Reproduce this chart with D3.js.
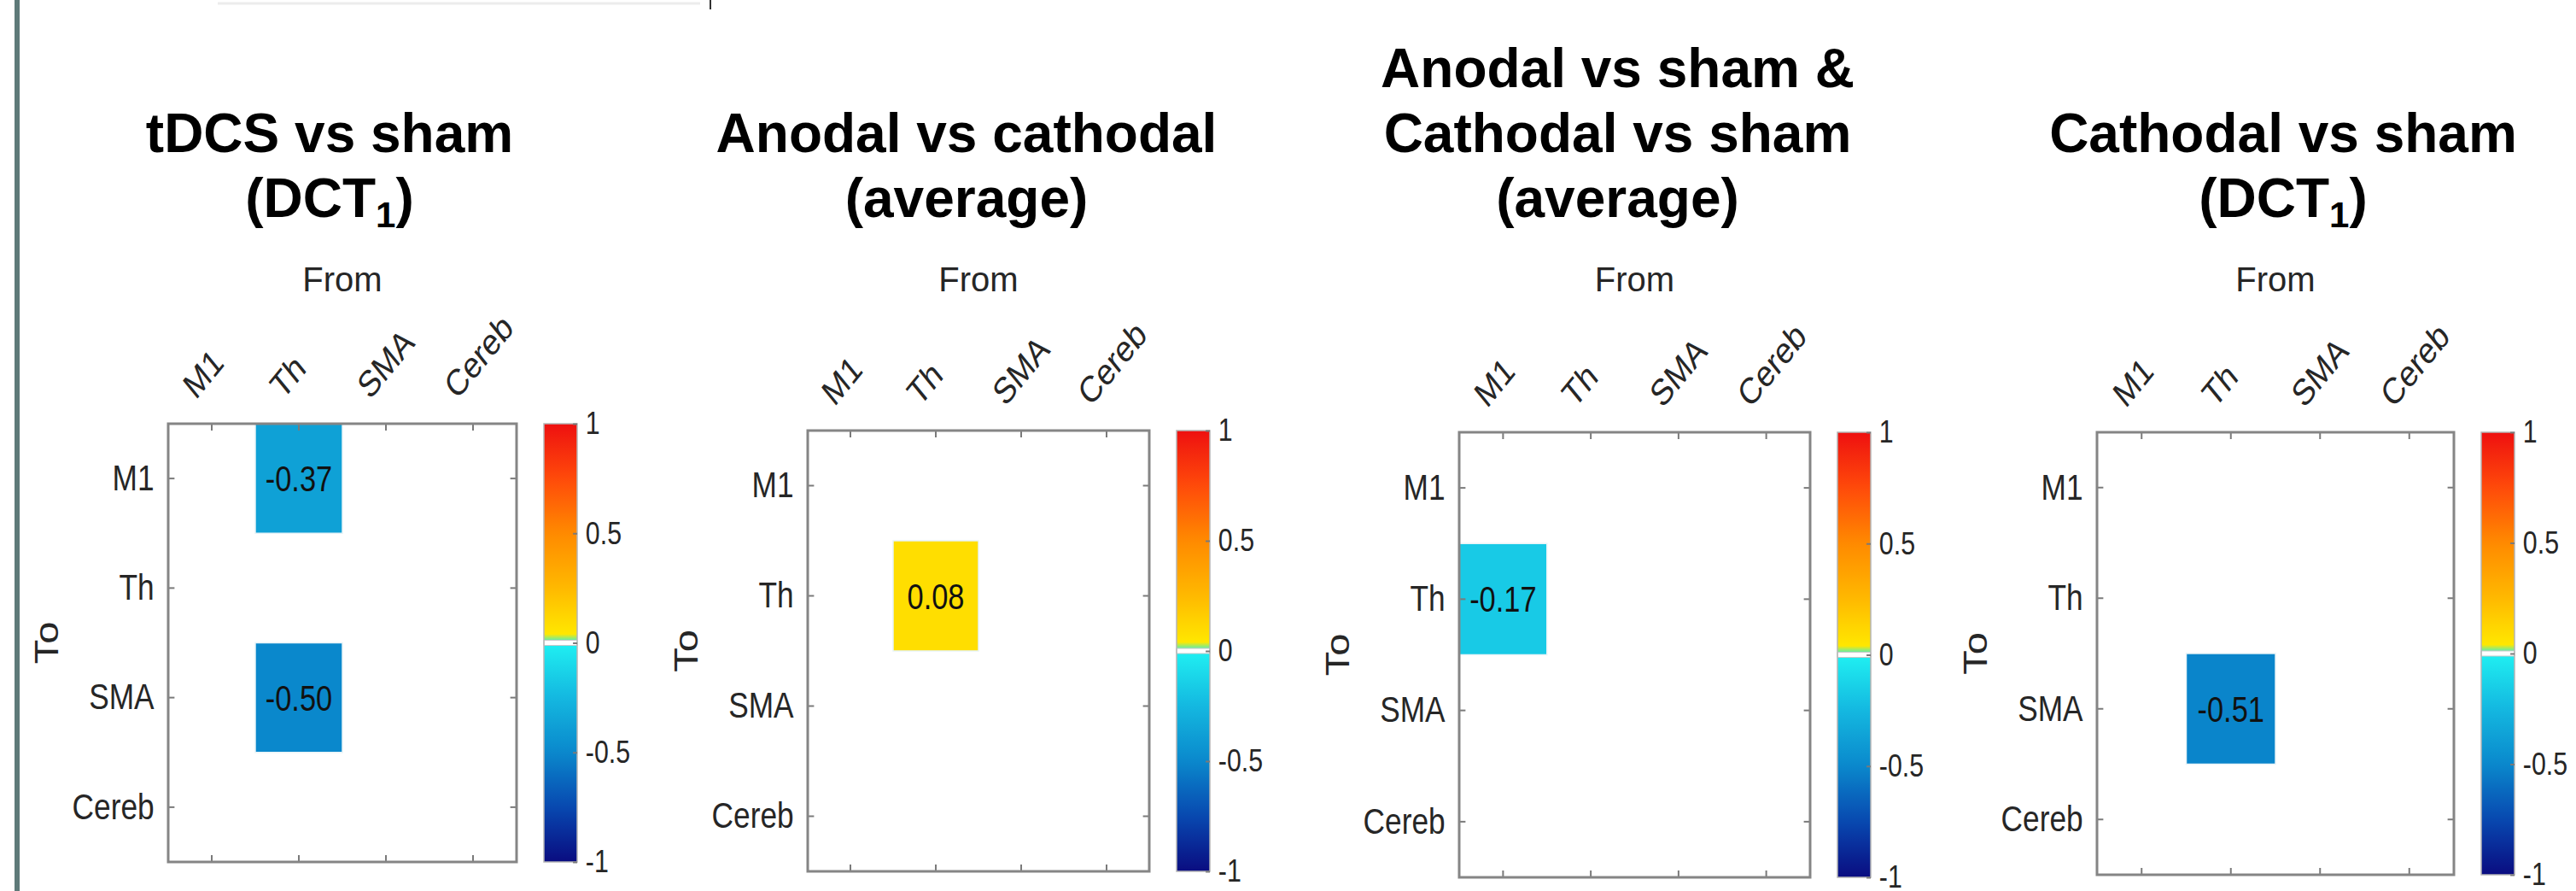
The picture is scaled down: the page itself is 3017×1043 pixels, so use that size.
<!DOCTYPE html>
<html>
<head>
<meta charset="utf-8">
<script src="https://cdn.jsdelivr.net/npm/d3@7"></script>
<style>
  body { margin: 0; background: #fff; }
  text { font-family: "Liberation Sans", Arial, Helvetica, sans-serif; }
</style>
</head>
<body>
<svg id="canvas" width="3017" height="1043"></svg>
<script>
// regions used for both axes (From = columns, To = rows)
let regions = ['M1', 'Th', 'SMA', 'Cereb']

// panel titles, "_1" marks a subscript
let panelTitles = [
    ['tDCS vs sham', '(DCT_1)'],
    ['Anodal vs cathodal', '(average)'],
    ['Anodal vs sham &', 'Cathodal vs sham', '(average)'],
    ['Cathodal vs sham', '(DCT_1)']
]

// non-empty cells of each matrix
let cellPanel = [0, 0, 1, 2, 3]
let cellFrom  = ['Th', 'Th', 'Th', 'M1', 'Th']
let cellTo    = ['M1', 'SMA', 'Th', 'Th', 'SMA']
let cellValue = [-0.37, -0.50, 0.08, -0.17, -0.51]

let colorbarTicks = [1, 0.5, 0, -0.5, -1]

// layout of the four panels
let boxLeft = [197, 946, 1709, 2456]
let boxTop = [496, 504, 506, 506]
let boxWidth = [408, 400, 411, 418]
let boxHeight = [513, 516, 521, 518]
let titleShift = [-15, -14, -20, 9]
let squeeze = 0.82   // the matrix figures are narrowed horizontally

let canvas = d3.select('#canvas')

// split colormap: blue side for negative, yellow-red for positive
let negColor = d3.scaleLinear()
    .domain([-1, -0.75, -0.5, -0.25, 0])
    .range(['#0a0c80', '#0848b0', '#0a88cc', '#14b8e0', '#20f0f2'])
let posColor = d3.scaleLinear()
    .domain([0, 0.25, 0.5, 0.75, 1])
    .range(['#fff000', '#ffb900', '#ff8a00', '#ff4a0a', '#ee1010'])
let colorOf = (v) => v < 0 ? negColor(v) : posColor(v)

// left border bar + faint remains of a cut line of text at the very top
canvas.append('rect').attr('x', 17).attr('y', 0).attr('width', 6).attr('height', 1043).attr('fill', '#5f7a79')
canvas.append('line').attr('x1', 255).attr('x2', 820).attr('y1', 4).attr('y2', 4)
    .attr('stroke', '#ececec').attr('stroke-width', 3)
canvas.append('line').attr('x1', 832).attr('x2', 832).attr('y1', 0).attr('y2', 11)
    .attr('stroke', '#333').attr('stroke-width', 2)

// gradient for the colorbar
let grad = canvas.append('defs').append('linearGradient').attr('id', 'cbgrad')
    .attr('x1', 0).attr('y1', 1).attr('x2', 0).attr('y2', 0)
d3.range(0, 1.0001, 0.02).forEach((t) => {
    let v = -1 + 2 * t
    grad.append('stop').attr('offset', t).attr('stop-color', colorOf(v === 0 ? -0.001 : v))
})

let drawPanel = (i) => {
    let w = boxWidth[i]
    let h = boxHeight[i]
    let g = canvas.append('g').attr('transform', `translate(${boxLeft[i]},${boxTop[i]})`)

    // title, bottom aligned
    let lines = panelTitles[i]
    lines.forEach((line, k) => {
        let baseY = 254 - boxTop[i] - (lines.length - 1 - k) * 76
        let parts = line.split(/_(\d)/)
        let t = g.append('text')
            .attr('x', w / 2 + titleShift[i])
            .attr('y', baseY)
            .attr('text-anchor', 'middle')
            .attr('font-size', 64)
            .attr('font-weight', 'bold')
            .attr('fill', '#000')
        parts.forEach((p, j) => {
            if (j % 2 === 1) {
                t.append('tspan').attr('font-size', 42).attr('dy', 12).text(p)
            } else if (j > 0) {
                t.append('tspan').attr('dy', -12).text(p)
            } else {
                t.append('tspan').text(p)
            }
        })
    })

    g.append('text')
        .attr('x', w / 2).attr('y', 341 - boxTop[i])
        .attr('text-anchor', 'middle').attr('font-size', 40).attr('fill', '#262626')
        .text('From')

    // matrix part drawn in a wider frame and squeezed
    let W = w / squeeze
    let m = g.append('g').attr('transform', `scale(${squeeze},1)`)

    let x = d3.scaleBand().domain(regions).range([0, W])
    let y = d3.scaleBand().domain(regions).range([0, h])
    let cb = d3.scaleLinear().domain([-1, 1]).range([h, 0])

    // cells
    let cells = d3.range(cellValue.length).filter((c) => cellPanel[c] === i)
    m.selectAll('rect.cell')
        .data(cells)
        .enter()
        .append('rect')
        .attr('class', 'cell')
        .attr('x', (c) => x(cellFrom[c]))
        .attr('y', (c) => y(cellTo[c]))
        .attr('width', x.bandwidth())
        .attr('height', y.bandwidth())
        .attr('fill', (c) => colorOf(cellValue[c]))
        .attr('stroke', '#e8f4f8')
        .attr('stroke-width', 1.5)
        .attr('vector-effect', 'non-scaling-stroke')
    m.selectAll('text.val')
        .data(cells)
        .enter()
        .append('text')
        .attr('class', 'val')
        .attr('x', (c) => x(cellFrom[c]) + x.bandwidth() / 2)
        .attr('y', (c) => y(cellTo[c]) + y.bandwidth() / 2)
        .attr('dy', '0.36em')
        .attr('text-anchor', 'middle')
        .attr('font-size', 42)
        .attr('fill', '#111')
        .text((c) => cellValue[c].toFixed(2))

    // axes, ticks pointing inwards
    let axisStyle = (sel) => {
        sel.select('.domain').remove()
        sel.selectAll('.tick line').attr('stroke', '#7a7a7a').attr('stroke-width', 2)
            .attr('vector-effect', 'non-scaling-stroke')
        sel.selectAll('.tick text').attr('font-size', 43).attr('fill', '#262626')
            .attr('font-family', '"Liberation Sans", Arial, sans-serif')
    }
    m.append('g').call(d3.axisLeft(y).tickSize(-9).tickPadding(20)).call(axisStyle)
    m.append('g').attr('transform', `translate(${W},0)`)
        .call(d3.axisRight(y).tickSize(-9).tickFormat('')).call(axisStyle)
    m.append('g').attr('transform', `translate(0,${h})`)
        .call(d3.axisBottom(x).tickSize(-8).tickFormat('')).call(axisStyle)
    let top = m.append('g').call(d3.axisTop(x).tickSize(-8)).call(axisStyle)
    top.selectAll('.tick text')
        .attr('x', 0).attr('y', 0).attr('dy', 0)
        .attr('text-anchor', 'start')
        .attr('transform', 'translate(-23,-27) rotate(-45)')

    // box
    m.append('rect').attr('width', W).attr('height', h)
        .attr('fill', 'none').attr('stroke', '#858585').attr('stroke-width', 3)
        .attr('vector-effect', 'non-scaling-stroke')

    m.append('text')
        .attr('transform', `translate(${-143 / squeeze},${h / 2}) rotate(-90)`)
        .attr('dy', '0.36em')
        .attr('text-anchor', 'middle').attr('font-size', 47).attr('fill', '#262626')
        .text('To')

    // colorbar
    let cbX = W + 32 / squeeze
    let cbW = 39 / squeeze
    let cbg = m.append('g').attr('transform', `translate(${cbX},0)`)
    cbg.append('rect').attr('width', cbW).attr('height', h).attr('fill', 'url(#cbgrad)')
    cbg.append('rect').attr('y', cb(0) - 3).attr('width', cbW).attr('height', 6)
        .attr('fill', '#fff').attr('stroke', '#c8c8c8').attr('stroke-width', 1)
        .attr('vector-effect', 'non-scaling-stroke')
    cbg.append('rect').attr('width', cbW).attr('height', h)
        .attr('fill', 'none').attr('stroke', '#b5b5b5').attr('stroke-width', 1.5)
        .attr('vector-effect', 'non-scaling-stroke')
    cbg.append('g').attr('transform', `translate(${cbW},0)`)
        .call(d3.axisRight(cb).tickValues(colorbarTicks).tickSize(-6).tickPadding(12)
            .tickFormat((d) => String(d)))
        .call(axisStyle)
        .selectAll('.tick text').attr('font-size', 37)
}

panelTitles.forEach((t, i) => drawPanel(i))
</script>
</body>
</html>
